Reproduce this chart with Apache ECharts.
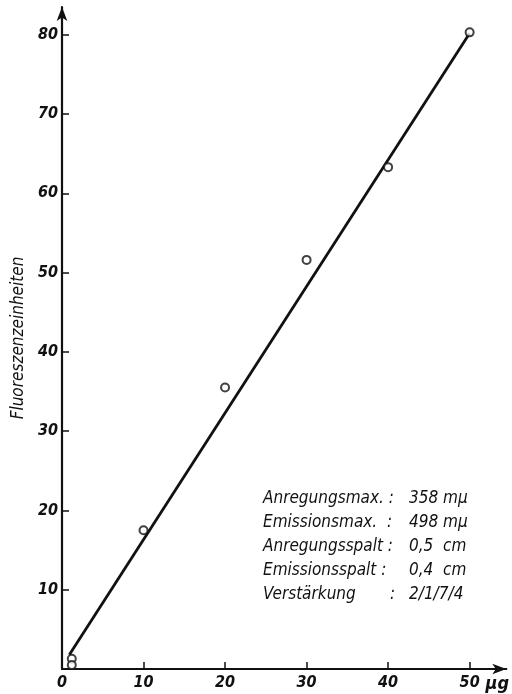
<!DOCTYPE html>
<html>
<head>
<meta charset="utf-8">
<script src="https://cdn.jsdelivr.net/npm/echarts@6/dist/echarts.min.js"></script>
<style>html,body{margin:0;padding:0;background:#fff}#c{width:512px;height:694px}</style>
</head>
<body>
<div id="c"></div>
<script>
// Data
const xTicks = [0, 10, 20, 30, 40, 50];
const yTicks = [10, 20, 30, 40, 50, 60, 70, 80];
const pointsX = [1.2, 1.2, 10, 20, 30, 40, 50];
const pointsY = [1.3, 0.5, 17.5, 35.5, 51.6, 63.3, 80.3];
const fitX = [0.9, 50];
const fitY = [1.8, 80.2];
const noteLabels = ['Anregungsmax. :', 'Emissionsmax.  :', 'Anregungsspalt :', 'Emissionsspalt :', 'Verstärkung'];
const noteColons = ['', '', '', '', ':'];
const noteValues = ['358 mμ', '498 mμ', '0,5  cm', '0,4  cm', '2/1/7/4'];
const yName = 'Fluoreszenzeinheiten';
const xUnit = 'μg';

const FONT = '"Liberation Sans Narrow", "DejaVu Sans Condensed", "Open Sans", sans-serif';
const chart = echarts.init(document.getElementById('c'));

const notes = [];
noteLabels.forEach((t, i) => {
  notes.push({ type: 'text', left: 263, top: 490 + i * 24,
    style: { text: t, font: 'italic 17px ' + FONT, fill: '#111' } });
  if (noteColons[i]) notes.push({ type: 'text', left: 390, top: 490 + i * 24,
    style: { text: noteColons[i], font: 'italic 17px ' + FONT, fill: '#111' } });
  notes.push({ type: 'text', left: 409, top: 490 + i * 24,
    style: { text: noteValues[i], font: 'italic 17px ' + FONT, fill: '#111' } });
});

chart.setOption({
  animation: false,
  grid: { left: 62, right: 5, top: 7, bottom: 25, containLabel: false },
  xAxis: {
    type: 'value', min: 0, max: 54.5,
    name: xUnit, nameLocation: 'end', nameGap: 0,
    nameTextStyle: { align: 'right', verticalAlign: 'top', padding: [6, 0, 0, 0],
      fontFamily: FONT, fontStyle: 'italic', fontWeight: 'bold', fontSize: 18, color: '#111' },
    splitLine: { show: false },
    axisLine: { onZero: false, lineStyle: { color: '#111', width: 2.2 }, symbol: ['none', 'arrow'], symbolSize: [8, 14] },
    axisTick: { inside: true, length: 7, lineStyle: { color: '#111', width: 1.5 }, customValues: xTicks.slice(1) },
    axisLabel: { customValues: xTicks, margin: 6, fontFamily: FONT, fontStyle: 'italic', fontWeight: 'bold', fontSize: 16, color: '#111',
      formatter: v => String(v) }
  },
  yAxis: {
    type: 'value', min: 0, max: 83.5,
    name: yName, nameLocation: 'middle', nameGap: 34,
    nameTextStyle: { fontFamily: FONT, fontStyle: 'italic', fontSize: 17, color: '#111' },
    splitLine: { show: false },
    axisLine: { onZero: false, lineStyle: { color: '#111', width: 2.2 }, symbol: ['none', 'arrow'], symbolSize: [8, 14] },
    axisTick: { inside: true, length: 7, lineStyle: { color: '#111', width: 1.5 }, customValues: yTicks },
    axisLabel: { customValues: yTicks, margin: 4, fontFamily: FONT, fontStyle: 'italic', fontWeight: 'bold', fontSize: 16, color: '#111' }
  },
  series: [
    { type: 'line', data: fitX.map((x, i) => [x, fitY[i]]), showSymbol: false, symbol: 'none',
      lineStyle: { color: '#111', width: 2.8 }, z: 2 },
    { type: 'scatter', data: pointsX.map((x, i) => [x, pointsY[i]]), symbol: 'circle', symbolSize: 8,
      itemStyle: { color: '#fff', borderColor: '#111', borderWidth: 2 }, z: 3 }
  ],
  graphic: notes
});
</script>
</body>
</html>
